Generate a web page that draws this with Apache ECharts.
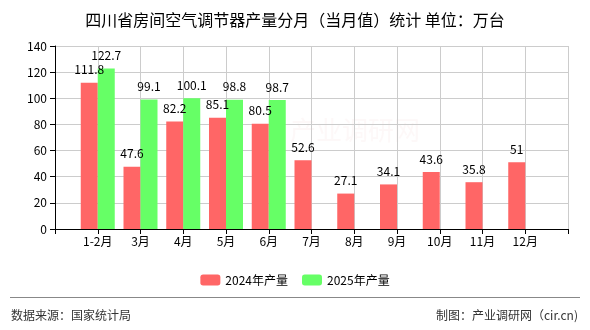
<!DOCTYPE html>
<html>
<head>
<meta charset="utf-8">
<script src="https://cdn.jsdelivr.net/npm/echarts@6/dist/echarts.min.js"></script>
<style>
  html, body { margin: 0; padding: 0; background: #fff; }
  #chart { width: 590px; height: 330px; }
</style>
</head>
<body>
<div id="chart"></div>
<script>
// Monthly output, unit: 10k units
const months = ['1-2月', '3月', '4月', '5月', '6月', '7月', '8月', '9月', '10月', '11月', '12月'];
const output2024 = [111.8, 47.6, 82.2, 85.1, 80.5, 52.6, 27.1, 34.1, 43.6, 35.8, 51];
const output2025 = [122.7, 99.1, 100.1, 98.8, 98.7];
const yTicks = { min: 0, max: 140, step: 20 };

const FONT = '"Noto Sans CJK SC", "Noto Sans", sans-serif';

// Pad with an empty slot on each side so the months sit on the grid lines
const axisData = [''].concat(months, ['']);
function pad(values) {
  const out = [null];
  for (let i = 0; i < months.length; i++) out.push(i < values.length ? values[i] : null);
  out.push(null);
  return out;
}

const chart = echarts.init(document.getElementById('chart'), null, { renderer: 'canvas' });

const labelStyle = {
  show: true,
  position: 'top',
  distance: 7,
  color: '#000',
  fontSize: 12,
  fontFamily: FONT,
  formatter: p => (p.value == null ? '' : String(p.value))
};

chart.setOption({
  animation: false,
  backgroundColor: '#fff',
  title: {
    text: '四川省房间空气调节器产量分月（当月值）统计 单位：万台',
    left: 'center',
    top: 7,
    textStyle: { fontSize: 16, fontWeight: 'normal', color: '#000', fontFamily: FONT }
  },
  legend: {
    top: 269,
    left: 'center',
    itemWidth: 20,
    itemHeight: 11,
    itemGap: 14,
    textStyle: { fontSize: 12, color: '#000', fontFamily: FONT },
    data: ['2024年产量', '2025年产量']
  },
  grid: { left: 55, right: 22, top: 46, bottom: 101, containLabel: false },
  xAxis: {
    type: 'category',
    boundaryGap: false,
    data: axisData,
    axisLine: { show: true, lineStyle: { color: '#000', width: 1 } },
    axisTick: { show: true, interval: 0, length: 5, lineStyle: { color: '#000' } },
    axisLabel: { interval: 0, margin: 6, color: '#000', fontSize: 12, fontFamily: FONT },
    splitLine: { show: true, interval: 0, lineStyle: { color: '#cccccc', width: 1 } }
  },
  yAxis: {
    type: 'value',
    min: yTicks.min,
    max: yTicks.max,
    interval: yTicks.step,
    axisLine: { show: true, lineStyle: { color: '#000', width: 1 } },
    axisTick: { show: true, length: 5, lineStyle: { color: '#000' } },
    axisLabel: { margin: 8, color: '#000', fontSize: 12, fontFamily: FONT },
    splitLine: { show: true, lineStyle: { color: '#cccccc', width: 1 } }
  },
  series: [
    {
      name: '2024年产量',
      type: 'bar',
      data: pad(output2024),
      barWidth: 17,
      barGap: '0%',
      itemStyle: { color: '#ff6666' },
      label: labelStyle
    },
    {
      name: '2025年产量',
      type: 'bar',
      data: pad(output2025),
      barWidth: 17,
      barGap: '0%',
      itemStyle: { color: '#66ff66' },
      label: labelStyle
    }
  ],
  graphic: [
    {
      type: 'text',
      left: 290, top: 117, silent: true, z: -1,
      style: { text: '产业调研网', fontSize: 26, fill: 'rgba(240,200,200,0.12)', fontFamily: FONT }
    },
    {
      type: 'line',
      shape: { x1: 10, y1: 297.5, x2: 580, y2: 297.5 },
      style: { stroke: '#888', lineWidth: 1 }
    },
    {
      type: 'text',
      left: 11, top: 309,
      style: { text: '数据来源：国家统计局', fontSize: 12, fill: '#333', fontFamily: FONT }
    },
    {
      type: 'text',
      right: 12, top: 309,
      style: { text: '制图：产业调研网（cir.cn)', fontSize: 12, fill: '#333', fontFamily: FONT }
    }
  ]
});
</script>
</body>
</html>
